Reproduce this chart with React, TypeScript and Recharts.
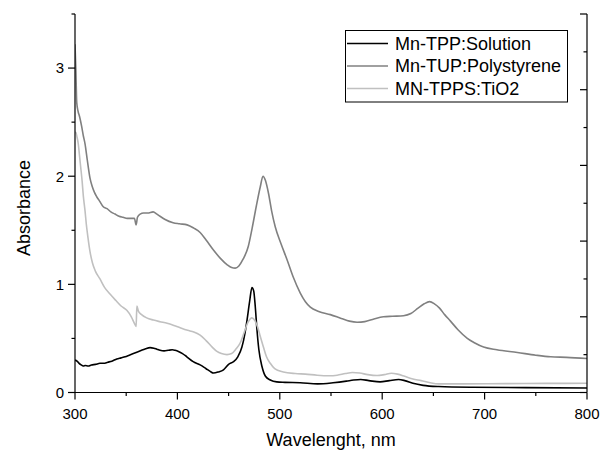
import React from 'react';
import { LineChart, Line, XAxis, YAxis, Legend } from 'recharts';

// Mn-TPP:Solution (black)
const tppX = [300, 302, 304, 306, 308.1, 310, 313, 316, 320, 324.4, 328, 332, 336, 340.8, 345, 349, 353, 357, 361, 365, 369, 373.3, 377, 380, 383.1, 387, 391, 395, 397.8, 401, 405, 409.2, 415.4, 422.2, 428, 432, 435.3, 440, 445, 450, 454.8, 459, 463, 466, 468, 470.5, 472.8, 474.5, 476, 477.7, 479.5, 482.6, 486, 490.7, 497, 505, 520, 537, 552, 565, 572, 579, 587, 598, 607, 616, 622, 630, 640, 655, 688, 740, 800];
const tppY = [0.30, 0.29, 0.27, 0.255, 0.245, 0.25, 0.245, 0.255, 0.26, 0.27, 0.27, 0.28, 0.29, 0.31, 0.32, 0.33, 0.345, 0.36, 0.375, 0.39, 0.405, 0.415, 0.41, 0.40, 0.39, 0.385, 0.39, 0.395, 0.39, 0.38, 0.36, 0.33, 0.285, 0.255, 0.22, 0.195, 0.18, 0.19, 0.21, 0.26, 0.285, 0.33, 0.42, 0.55, 0.67, 0.84, 0.97, 0.94, 0.80, 0.58, 0.40, 0.24, 0.15, 0.116, 0.098, 0.094, 0.09, 0.08, 0.09, 0.105, 0.115, 0.12, 0.11, 0.098, 0.11, 0.12, 0.11, 0.085, 0.066, 0.055, 0.048, 0.045, 0.042];

// Mn-TUP:Polystyrene (gray)
const tupX = [300, 300.8, 301.7, 303, 304.5, 306.5, 308, 309.8, 312, 314.7, 317, 319, 321.2, 324, 327.4, 331.3, 335, 339, 343, 347, 351, 355, 358, 359.7, 361, 363.6, 367, 371, 376.3, 380, 383, 388, 395.8, 402, 409.5, 416, 422.2, 428, 435, 442, 448.7, 453, 456.5, 460, 464, 469.2, 473, 477, 480.9, 483.6, 486, 489, 492, 495.6, 501, 507, 513, 520, 525, 529.8, 538, 549.4, 560, 568, 575.5, 583, 592, 601.2, 610, 620.8, 628, 635, 641, 646.2, 651, 656, 661, 666.7, 674, 683.1, 690, 699, 712, 732, 750, 764.5, 780, 800];
const tupY = [3.22, 3.0, 2.68, 2.6, 2.55, 2.46, 2.38, 2.3, 2.15, 1.98, 1.9, 1.85, 1.81, 1.77, 1.72, 1.70, 1.67, 1.65, 1.63, 1.62, 1.61, 1.61, 1.61, 1.55, 1.62, 1.65, 1.66, 1.66, 1.67, 1.65, 1.63, 1.60, 1.57, 1.56, 1.55, 1.52, 1.48, 1.41, 1.32, 1.24, 1.18, 1.155, 1.15, 1.17, 1.23, 1.35, 1.52, 1.72, 1.9, 2.0, 1.96, 1.84, 1.68, 1.53, 1.38, 1.23, 1.07, 0.92, 0.84, 0.79, 0.75, 0.72, 0.685, 0.66, 0.65, 0.655, 0.68, 0.70, 0.705, 0.71, 0.73, 0.78, 0.82, 0.84, 0.82, 0.78, 0.72, 0.66, 0.58, 0.50, 0.46, 0.42, 0.395, 0.37, 0.345, 0.33, 0.325, 0.315];

// MN-TPPS:TiO2 (light gray)
const tppsX = [300, 301, 302, 303.2, 304.3, 305.5, 307, 308.1, 309.8, 311, 312.7, 314.7, 317, 320, 324.4, 329, 334.2, 340, 345, 350.6, 355, 358, 359.7, 360.4, 362, 365, 370, 376.6, 383, 390, 399.4, 410, 416, 422.2, 428, 434, 438.6, 443, 448.4, 453, 457, 461.4, 465, 469, 472.8, 476, 478.5, 480.9, 484, 487, 490.7, 495, 503.4, 515, 525, 536.4, 548, 556, 564, 571, 578, 586, 595, 602, 609, 615, 622, 630, 638, 647, 655, 680, 720, 760, 800];
const tppsY = [2.41, 2.40, 2.36, 2.30, 2.20, 2.09, 1.95, 1.82, 1.68, 1.56, 1.43, 1.30, 1.20, 1.12, 1.05, 0.97, 0.91, 0.85, 0.80, 0.76, 0.70, 0.64, 0.61, 0.80, 0.75, 0.72, 0.69, 0.67, 0.655, 0.64, 0.61, 0.575, 0.56, 0.53, 0.48, 0.42, 0.38, 0.36, 0.35, 0.36, 0.40, 0.46, 0.55, 0.65, 0.69, 0.66, 0.60, 0.52, 0.42, 0.33, 0.27, 0.22, 0.19, 0.175, 0.17, 0.16, 0.155, 0.16, 0.175, 0.185, 0.18, 0.165, 0.157, 0.165, 0.178, 0.17, 0.15, 0.125, 0.11, 0.09, 0.08, 0.08, 0.082, 0.084, 0.085];

const seriesNames = ['Mn-TPP:Solution', 'Mn-TUP:Polystyrene', 'MN-TPPS:TiO2'];
const seriesColors = ['#000000', '#808080', '#c0c0c0'];

const xTicks = [300, 350, 400, 450, 500, 550, 600, 650, 700, 750, 800];
const yTicks = [0, 0.5, 1, 1.5, 2, 2.5, 3, 3.5];
const rightTicks = [0, 1, 2, 3, 4, 5, 6, 7, 8, 9, 10];

const xTitle = 'Wavelenght, nm';
const yTitle = 'Absorbance';

const toData = (xs: number[], ys: number[]) => xs.map((x, i) => ({ x, y: ys[i] }));
const tppData = toData(tppX, tppY);
const tupData = toData(tupX, tupY);
const tppsData = toData(tppsX, tppsY);

const FONT = "Arial, 'Liberation Sans', sans-serif";
const AX = 1.2;

const BottomTick = (props: any) => {
  const { x, y, payload } = props;
  const v = payload.value;
  const major = v % 100 === 0;
  return (
    <g>
      <line x1={x} y1={y} x2={x} y2={y + (major ? 7 : 3.5)} stroke="#000" strokeWidth={AX} />
      {major && (
        <text x={x} y={y + 15.5} dy="0.71em" textAnchor="middle" fontSize={15} fontFamily={FONT} fill="#000">
          {v}
        </text>
      )}
    </g>
  );
};

const TopTick = (props: any) => {
  const { x, y, payload } = props;
  const major = payload.value % 100 === 0;
  return <line x1={x} y1={y} x2={x} y2={y + (major ? 7 : 3.5)} stroke="#000" strokeWidth={AX} />;
};

const LeftTick = (props: any) => {
  const { x, y, payload } = props;
  const v = payload.value;
  const major = Number.isInteger(v);
  return (
    <g>
      <line x1={x - (major ? 7 : 3.5)} y1={y} x2={x} y2={y} stroke="#000" strokeWidth={AX} />
      {major && (
        <text x={x - 11} y={y} dy="0.36em" textAnchor="end" fontSize={15} fontFamily={FONT} fill="#000">
          {v}
        </text>
      )}
    </g>
  );
};

const RightTick = (props: any) => {
  const { x, y, payload } = props;
  const major = payload.value % 2 === 0;
  return <line x1={x - (major ? 7 : 3.5)} y1={y} x2={x} y2={y} stroke="#000" strokeWidth={AX} />;
};

const XTitle = (props: any) => {
  const vb = props.viewBox;
  return (
    <text x={vb.x + vb.width / 2} y={445.5} textAnchor="middle" fontSize={18} fontFamily={FONT} fill="#000">
      {xTitle}
    </text>
  );
};

const YTitle = () => (
  <text x={30} y={208} textAnchor="middle" fontSize={18} fontFamily={FONT} fill="#000" transform="rotate(-90 30 208)">
    {yTitle}
  </text>
);

const LegendBox = () => {
  const rows = [13.5, 36, 58.5];
  return (
    <svg width={223} height={73} style={{ display: 'block' }}>
      <rect x={0.5} y={0.5} width={222} height={71.5} fill="#fff" stroke="#000" strokeWidth={1} />
      {rows.map((ry, i) => (
        <g key={i}>
          <line x1={2} y1={ry} x2={43} y2={ry} stroke={seriesColors[i]} strokeWidth={1.6} />
          <text x={50} y={ry} dy="0.36em" fontSize={18} fontFamily={FONT} fill="#000">
            {seriesNames[i]}
          </text>
        </g>
      ))}
    </svg>
  );
};

export default function App() {
  return (
    <div style={{ width: 600, height: 450, position: 'relative', background: '#fff' }}>
      <style>{'html,body{margin:0;padding:0;}'}</style>
      <LineChart width={600} height={450} margin={{ top: 14, right: 0, left: 0, bottom: 0 }}>
        <XAxis
          xAxisId="b"
          type="number"
          dataKey="x"
          domain={[300, 800]}
          allowDataOverflow
          ticks={xTicks}
          interval={0}
          height={57.5}
          tickSize={0}
          tickMargin={0}
          tickLine={false}
          axisLine={{ stroke: '#000', strokeWidth: AX }}
          tick={<BottomTick />}
          label={<XTitle />}
        />
        <XAxis
          xAxisId="t"
          orientation="top"
          type="number"
          dataKey="x"
          domain={[300, 800]}
          allowDataOverflow
          ticks={xTicks}
          interval={0}
          height={0}
          tickSize={0}
          tickMargin={0}
          tickLine={false}
          axisLine={{ stroke: '#000', strokeWidth: AX }}
          tick={<TopTick />}
        />
        <YAxis
          yAxisId="l"
          type="number"
          domain={[0, 3.5]}
          allowDataOverflow
          ticks={yTicks}
          interval={0}
          width={75}
          tickSize={0}
          tickMargin={0}
          tickLine={false}
          axisLine={{ stroke: '#000', strokeWidth: AX }}
          tick={<LeftTick />}
          label={<YTitle />}
        />
        <YAxis
          yAxisId="r"
          orientation="right"
          type="number"
          domain={[0, 10]}
          allowDataOverflow
          ticks={rightTicks}
          interval={0}
          width={13}
          tickSize={0}
          tickMargin={0}
          tickLine={false}
          axisLine={{ stroke: '#000', strokeWidth: AX }}
          tick={<RightTick />}
        />
        <Legend
          layout="vertical"
          align="center"
          verticalAlign="middle"
          wrapperStyle={{ position: 'absolute', left: 345, top: 30, width: 223, height: 73 }}
          content={<LegendBox />}
        />
        <Line xAxisId="b" yAxisId="l" data={tppData} dataKey="y" name={seriesNames[0]} type="monotone" stroke={seriesColors[0]} strokeWidth={1.6} dot={false} isAnimationActive={false} />
        <Line xAxisId="b" yAxisId="l" data={tupData} dataKey="y" name={seriesNames[1]} type="monotone" stroke={seriesColors[1]} strokeWidth={1.6} dot={false} isAnimationActive={false} />
        <Line xAxisId="b" yAxisId="l" data={tppsData} dataKey="y" name={seriesNames[2]} type="monotone" stroke={seriesColors[2]} strokeWidth={1.6} dot={false} isAnimationActive={false} />
      </LineChart>
    </div>
  );
}
